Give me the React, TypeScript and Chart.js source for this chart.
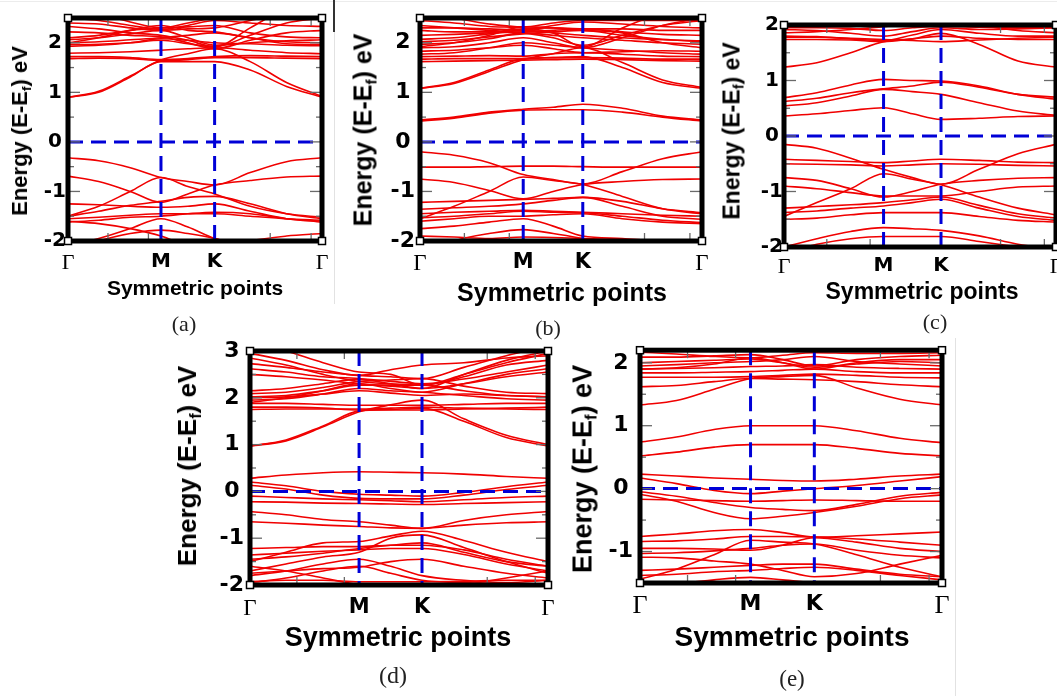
import React, { useEffect, useRef } from "react";
import { Chart, registerables } from "chart.js";

Chart.register(...registerables);

// ---------- shared data ----------
// k-path sample positions (Γ=0, M=1, K=1.577, Γ=2.732)
const K_POINTS = [0, 0.33, 0.67, 1, 1.29, 1.577, 1.96, 2.35, 2.732];
const X_TICKS = [0, 1, 1.577, 2.732];
const X_LABELS = ["Γ", "M", "K", "Γ"];
const X_MINOR = [0.43, 0.865, 2.175, 2.615];
const X_TITLE = "Symmetric points";

// ---------- panel (a) ----------
const Y_TICKS_A = [-2, -1, 0, 1, 2];
const Y_RANGE_A = [-2, 2.5];
const BANDS_A_COND = [
  [0.9, 1.0, 1.31, 1.62, 1.62, 1.62, 1.45, 1.12, 0.9],
  [0.9, 1.02, 1.33, 1.65, 1.78, 1.88, 1.62, 1.2, 0.92],
  [1.68, 1.69, 1.68, 1.64, 1.66, 1.7, 1.7, 1.69, 1.68],
  [1.72, 1.72, 1.7, 1.66, 1.68, 1.72, 1.74, 1.73, 1.72],
  [1.79, 1.8, 1.82, 1.85, 1.88, 1.9, 1.85, 1.8, 1.78],
  [1.93, 1.95, 2.0, 2.08, 2.05, 2.0, 1.98, 1.95, 1.94],
  [1.96, 1.97, 2.0, 2.05, 1.98, 1.92, 2.15, 2.4, 2.5],
  [2.0, 2.02, 2.06, 2.1, 2.15, 2.2, 2.1, 2.02, 2.0],
  [2.06, 2.1, 2.18, 2.25, 2.1, 1.95, 2.0, 2.04, 2.06],
  [2.1, 2.15, 2.25, 2.3, 2.32, 2.35, 2.2, 2.12, 2.1],
  [2.22, 2.2, 2.15, 2.12, 2.0, 1.88, 2.05, 2.2, 2.25],
  [2.33, 2.28, 2.2, 2.15, 2.05, 1.92, 2.3, 2.7, 2.9],
  [2.4, 2.38, 2.3, 2.25, 2.28, 2.3, 2.45, 2.6, 2.7],
  [2.5, 2.45, 2.35, 2.27, 2.35, 2.45, 2.4, 2.35, 2.33],
  [2.7, 2.6, 2.42, 2.3, 2.4, 2.5, 2.55, 2.5, 2.47],
  [2.0, 2.1, 2.25, 2.35, 2.25, 2.22, 2.1, 1.98, 1.96],
];
const BANDS_A_VAL = [
  [-0.32, -0.38, -0.52, -0.72, -0.8, -0.87, -0.62, -0.4, -0.32],
  [-0.69, -0.8, -1.0, -1.22, -1.05, -0.87, -0.78, -0.71, -0.69],
  [-1.5, -1.3, -1.0, -0.72, -0.9, -1.05, -1.3, -1.45, -1.52],
  [-1.5, -1.4, -1.28, -1.2, -1.12, -1.1, -1.25, -1.45, -1.55],
  [-1.55, -1.52, -1.48, -1.45, -1.45, -1.45, -1.5, -1.55, -1.58],
  [-1.62, -1.58, -1.52, -1.5, -1.45, -1.42, -1.45, -1.55, -1.62],
  [-1.25, -1.27, -1.3, -1.32, -1.3, -1.25, -1.4, -1.55, -1.6],
  [-2.2, -2.0, -1.85, -1.78, -1.85, -1.95, -2.15, -2.3, -2.4],
  [-1.6, -1.65, -1.75, -1.9, -2.1, -2.2, -2.0, -1.9, -1.85],
  [-2.1, -1.95, -1.75, -1.55, -1.72, -1.95, -2.1, -2.2, -2.2],
];

// ---------- panel (b) ----------
const Y_TICKS_B = [-2, -1, 0, 1, 2];
const Y_RANGE_B = [-2, 2.5];
const BANDS_B_COND = [
  [0.44, 0.5, 0.6, 0.66, 0.7, 0.76, 0.68, 0.52, 0.44],
  [0.42, 0.48, 0.58, 0.64, 0.65, 0.65, 0.6, 0.5, 0.42],
  [1.08, 1.2, 1.45, 1.68, 1.7, 1.72, 1.5, 1.2, 1.08],
  [1.08, 1.18, 1.42, 1.66, 1.78, 1.9, 1.6, 1.25, 1.1],
  [1.62, 1.63, 1.64, 1.65, 1.66, 1.67, 1.66, 1.64, 1.63],
  [1.67, 1.68, 1.68, 1.68, 1.7, 1.7, 1.69, 1.67, 1.67],
  [1.72, 1.73, 1.74, 1.73, 1.78, 1.8, 1.77, 1.73, 1.72],
  [1.77, 1.8, 1.9, 2.0, 1.95, 1.9, 1.85, 1.8, 1.77],
  [1.83, 1.85, 1.9, 1.95, 1.88, 1.8, 1.82, 1.84, 1.83],
  [1.9, 1.92, 2.0, 2.1, 2.0, 1.9, 2.1, 2.35, 2.5],
  [1.97, 2.0, 2.08, 2.2, 2.15, 2.1, 2.05, 2.0, 1.97],
  [2.02, 2.05, 2.12, 2.18, 2.22, 2.25, 2.15, 2.07, 2.02],
  [2.07, 2.1, 2.18, 2.25, 2.2, 2.15, 2.1, 2.06, 2.04],
  [2.15, 2.17, 2.2, 2.22, 2.25, 2.28, 2.22, 2.17, 2.15],
  [2.25, 2.22, 2.22, 2.28, 2.3, 2.28, 2.28, 2.25, 2.25],
  [2.35, 2.3, 2.25, 2.2, 2.1, 1.95, 2.15, 2.35, 2.45],
  [2.3, 2.3, 2.28, 2.26, 2.35, 2.42, 2.38, 2.33, 2.3],
  [2.45, 2.4, 2.33, 2.3, 2.2, 1.92, 2.3, 2.6, 2.8],
  [2.6, 2.5, 2.38, 2.32, 2.4, 2.45, 2.45, 2.45, 2.45],
  [1.92, 2.0, 2.15, 2.32, 2.3, 2.25, 2.2, 2.0, 1.9],
];
const BANDS_B_VAL = [
  [-0.2, -0.27, -0.42, -0.66, -0.76, -0.85, -0.6, -0.34, -0.2],
  [-0.51, -0.51, -0.5, -0.49, -0.49, -0.5, -0.51, -0.51, -0.51],
  [-0.75, -0.82, -0.98, -1.15, -1.0, -0.86, -0.8, -0.76, -0.75],
  [-1.55, -1.3, -1.0, -0.71, -0.78, -0.86, -1.1, -1.35, -1.45],
  [-1.22, -1.2, -1.18, -1.16, -1.14, -1.12, -1.2, -1.35, -1.43],
  [-1.36, -1.33, -1.3, -1.25, -1.18, -1.12, -1.3, -1.5, -1.56],
  [-1.45, -1.42, -1.4, -1.38, -1.4, -1.42, -1.45, -1.48, -1.5],
  [-1.53, -1.5, -1.45, -1.4, -1.42, -1.43, -1.5, -1.58, -1.63],
  [-1.6, -1.55, -1.5, -1.5, -1.47, -1.45, -1.55, -1.62, -1.65],
  [-2.3, -2.0, -1.85, -1.77, -1.85, -1.95, -2.1, -2.3, -2.4],
  [-1.9, -1.92, -1.95, -1.92, -1.93, -1.95, -1.97, -1.98, -2.0],
  [-1.75, -1.7, -1.62, -1.55, -1.7, -1.9, -1.95, -2.0, -2.0],
];

// ---------- panel (c) ----------
const Y_TICKS_C = [-2, -1, 0, 1, 2];
const Y_RANGE_C = [-2, 2];
const BANDS_C_COND = [
  [0.36, 0.4, 0.46, 0.51, 0.4, 0.3, 0.32, 0.35, 0.36],
  [0.54, 0.6, 0.72, 0.84, 0.8, 0.75, 0.6, 0.45, 0.37],
  [0.69, 0.78, 0.92, 1.02, 1.0, 0.99, 0.9, 0.75, 0.66],
  [0.62, 0.68, 0.78, 0.85, 0.9, 0.97, 0.88, 0.75, 0.7],
  [1.24, 1.32, 1.5, 1.7, 1.75, 1.85, 1.65, 1.35, 1.24],
  [1.74, 1.74, 1.73, 1.7, 1.75, 1.8, 1.76, 1.74, 1.74],
  [1.78, 1.78, 1.76, 1.74, 1.72, 1.7, 1.73, 1.76, 1.78],
  [1.8, 1.79, 1.75, 1.72, 1.82, 1.92, 1.85, 1.8, 1.8],
  [1.92, 1.9, 1.85, 1.8, 1.88, 1.95, 1.92, 1.93, 1.95],
  [1.95, 1.95, 1.94, 1.9, 1.95, 1.98, 1.96, 1.95, 1.95],
  [1.86, 1.88, 1.92, 1.97, 2.05, 2.1, 2.0, 1.9, 1.86],
];
const BANDS_C_VAL = [
  [-0.15, -0.22, -0.4, -0.6, -0.75, -0.87, -0.6, -0.32, -0.15],
  [-0.42, -0.44, -0.46, -0.48, -0.45, -0.42, -0.44, -0.47, -0.48],
  [-0.5, -0.51, -0.52, -0.54, -0.52, -0.5, -0.51, -0.53, -0.54],
  [-0.75, -0.8, -0.95, -1.1, -1.0, -0.87, -0.8, -0.76, -0.75],
  [-1.45, -1.2, -0.95, -0.68, -0.78, -0.88, -1.1, -1.3, -1.42],
  [-1.3, -1.27, -1.24, -1.2, -1.15, -1.1, -1.25, -1.4, -1.48],
  [-1.38, -1.35, -1.3, -1.26, -1.2, -1.14, -1.3, -1.45, -1.52],
  [-1.5, -1.48, -1.42, -1.38, -1.38, -1.38, -1.45, -1.52, -1.55],
  [-2.0, -1.85, -1.72, -1.65, -1.67, -1.7, -1.8, -1.95, -2.05],
  [-2.1, -1.95, -1.85, -1.81, -1.81, -1.81, -1.9, -2.0, -2.1],
  [-0.9, -0.95, -1.02, -1.08, -1.08, -1.08, -1.0, -0.92, -0.9],
];

// ---------- panel (d) ----------
const Y_TICKS_D = [-2, -1, 0, 1, 2, 3];
const Y_RANGE_D = [-2, 3];
const BANDS_D_COND = [
  [0.28, 0.35, 0.4, 0.42, 0.41, 0.4, 0.37, 0.32, 0.28],
  [0.2, 0.12, 0.0, -0.06, -0.08, -0.1, -0.02, 0.1, 0.2],
  [0.13, 0.05, -0.08, -0.15, -0.16, -0.16, -0.08, 0.04, 0.13],
  [0.97, 1.1, 1.4, 1.72, 1.75, 1.78, 1.5, 1.15, 0.97],
  [0.97, 1.08, 1.38, 1.7, 1.85, 1.95, 1.55, 1.2, 1.0],
  [1.75, 1.76, 1.76, 1.76, 1.78, 1.8, 1.78, 1.76, 1.75],
  [1.8, 1.8, 1.78, 1.74, 1.74, 1.74, 1.76, 1.78, 1.8],
  [1.88, 1.88, 1.86, 1.84, 1.84, 1.84, 1.86, 1.88, 1.88],
  [1.95, 1.98, 2.08, 2.2, 2.15, 2.12, 2.05, 1.98, 1.95],
  [2.0, 2.02, 2.08, 2.15, 2.1, 2.05, 2.08, 2.05, 2.02],
  [2.02, 2.05, 2.15, 2.27, 2.27, 2.27, 2.15, 2.05, 2.02],
  [2.09, 2.12, 2.22, 2.35, 2.38, 2.41, 2.25, 2.12, 2.09],
  [2.15, 2.2, 2.3, 2.4, 2.35, 2.3, 2.4, 2.55, 2.7],
  [2.5, 2.45, 2.38, 2.3, 2.25, 2.2, 2.3, 2.45, 2.55],
  [2.62, 2.55, 2.45, 2.41, 2.3, 2.2, 2.5, 2.8, 3.0],
  [2.73, 2.65, 2.55, 2.48, 2.45, 2.41, 2.65, 2.9, 3.1],
  [2.85, 2.7, 2.5, 2.35, 2.3, 2.27, 2.5, 2.75, 2.95],
  [2.95, 2.8, 2.6, 2.48, 2.6, 2.7, 2.75, 2.85, 2.9],
  [3.2, 3.0, 2.75, 2.55, 2.5, 2.27, 2.45, 2.7, 2.8],
  [1.9, 2.0, 2.15, 2.3, 2.2, 2.12, 2.3, 2.5, 2.62],
];
const BANDS_D_VAL = [
  [-0.1, -0.13, -0.16, -0.18, -0.2, -0.22, -0.18, -0.13, -0.1],
  [-0.22, -0.23, -0.25, -0.26, -0.27, -0.28, -0.26, -0.24, -0.22],
  [-0.43, -0.5, -0.6, -0.65, -0.72, -0.79, -0.62, -0.5, -0.43],
  [-0.65, -0.68, -0.72, -0.75, -0.78, -0.79, -0.72, -0.67, -0.65],
  [-1.5, -1.3, -1.1, -1.07, -0.95, -0.85, -1.05, -1.3, -1.5],
  [-1.22, -1.2, -1.18, -1.18, -1.15, -1.15, -1.25, -1.45, -1.6],
  [-1.36, -1.32, -1.28, -1.25, -1.22, -1.22, -1.35, -1.55, -1.7],
  [-1.45, -1.4, -1.32, -1.22, -1.15, -1.1, -1.3, -1.5, -1.6],
  [-1.7, -1.55, -1.4, -1.3, -1.0, -0.93, -1.2, -1.5, -1.75],
  [-1.75, -1.7, -1.65, -1.62, -1.5, -1.45, -1.6, -1.75, -1.85],
  [-1.8, -1.7, -1.55, -1.45, -1.6, -1.8, -1.9, -1.95, -1.9],
  [-1.95, -1.85, -1.7, -1.6, -1.75, -1.9, -1.95, -1.97, -1.98],
  [-1.93, -1.9, -1.9, -1.93, -1.93, -1.93, -1.92, -1.9, -1.9],
  [-1.6, -1.7, -1.85, -2.0, -2.1, -2.15, -2.0, -1.85, -1.7],
];

// ---------- panel (e) ----------
const Y_TICKS_E = [-1, 0, 1, 2];
const Y_RANGE_E = [-1.5, 2.2];
const BANDS_E_COND = [
  [0.23, 0.2, 0.17, 0.15, 0.13, 0.12, 0.15, 0.2, 0.23],
  [0.17, 0.08, -0.03, -0.08, -0.04, 0.0, 0.05, 0.12, 0.19],
  [0.52, 0.58, 0.66, 0.7, 0.7, 0.7, 0.64, 0.56, 0.52],
  [0.74, 0.82, 0.94, 1.0, 1.0, 1.0, 0.92, 0.8, 0.73],
  [1.33, 1.4, 1.58, 1.75, 1.78, 1.8, 1.6, 1.42, 1.33],
  [1.62, 1.64, 1.7, 1.75, 1.74, 1.73, 1.7, 1.65, 1.62],
  [1.77, 1.77, 1.77, 1.78, 1.8, 1.82, 1.8, 1.77, 1.76],
  [1.84, 1.84, 1.85, 1.86, 1.88, 1.9, 1.86, 1.84, 1.84],
  [1.9, 1.91, 1.92, 1.94, 1.95, 1.97, 1.93, 1.91, 1.9],
  [1.95, 1.97, 2.0, 2.02, 2.05, 2.1, 2.02, 1.98, 1.95],
  [2.0, 2.02, 2.04, 2.06, 2.0, 1.93, 1.98, 2.02, 2.0],
  [2.09, 2.09, 2.11, 2.13, 2.05, 1.95, 2.05, 2.1, 2.12],
  [2.17, 2.14, 2.1, 2.08, 2.12, 2.16, 2.15, 2.15, 2.16],
  [1.9, 1.92, 1.98, 2.08, 2.0, 1.9, 2.0, 2.05, 2.05],
];
const BANDS_E_VAL = [
  [-0.05, -0.12, -0.22, -0.3, -0.33, -0.35, -0.25, -0.12, -0.06],
  [-0.09, -0.2, -0.38, -0.48, -0.44, -0.38, -0.28, -0.16, -0.1],
  [-0.17, -0.18, -0.19, -0.2, -0.19, -0.18, -0.19, -0.2, -0.2],
  [-0.76, -0.72, -0.67, -0.65, -0.7, -0.77, -0.75, -0.72, -0.69],
  [-0.84, -0.83, -0.8, -0.76, -0.76, -0.77, -0.8, -0.85, -0.9],
  [-0.95, -0.95, -0.96, -0.98, -0.9, -0.78, -0.85, -0.95, -1.0],
  [-1.03, -1.02, -0.99, -0.95, -0.9, -0.88, -0.98, -1.06, -1.1],
  [-1.09, -1.1, -1.15, -1.2, -1.3, -1.4, -1.35, -1.2, -1.06],
  [-1.44, -1.28, -1.05, -0.82, -0.85, -0.88, -1.05, -1.25, -1.4],
  [-1.3, -1.28, -1.25, -1.22, -1.2, -1.2, -1.28, -1.36, -1.4],
  [-1.38, -1.36, -1.32, -1.3, -1.27, -1.25, -1.3, -1.38, -1.45],
  [-1.6, -1.52, -1.45, -1.41, -1.45, -1.5, -1.55, -1.6, -1.6],
];

// ---------- styles / layout ----------
const RED = "rgb(240,0,0)";
const BLUE = "rgb(0,0,215)";
const SANS = '"Liberation Sans", Arial, Helvetica, sans-serif';
const TICK_SANS = '"DejaVu Sans", "Liberation Sans", Arial, sans-serif';
const SERIF = '"Liberation Serif", "Times New Roman", serif';

const W_Y = 60;
const PAD_T = 20;
const PAD_R = 20;
const H_X = 40;

const PANELS = [
  {
    key: "a", caption: "(a)", yRange: Y_RANGE_A, yTicks: Y_TICKS_A, bands: [...BANDS_A_COND, ...BANDS_A_VAL],
    box: { L: 68, T: 18, R: 322, B: 241 }, tickSize: 20, tickPad: 2, xSize: 20, gSize: 22, xPad: 9,
    yTitle: { x: 20, y: 131, s: 22 }, xTitle: { x: 195, y: 287, s: 21 }, cap: { x: 184, y: 324, s: 22 },
  },
  {
    key: "b", caption: "(b)", yRange: Y_RANGE_B, yTicks: Y_TICKS_B, bands: [...BANDS_B_COND, ...BANDS_B_VAL],
    box: { L: 420, T: 18, R: 702, B: 241 }, tickSize: 22, tickPad: 5, xSize: 21, gSize: 23, xPad: 9,
    yTitle: { x: 363, y: 130, s: 25 }, xTitle: { x: 562, y: 292, s: 25 }, cap: { x: 548, y: 328, s: 22 },
  },
  {
    key: "c", caption: "(c)", yRange: Y_RANGE_C, yTicks: Y_TICKS_C, bands: [...BANDS_C_COND, ...BANDS_C_VAL],
    box: { L: 784, T: 25, R: 1056, B: 247 }, tickSize: 20, tickPad: 1, xSize: 20, gSize: 22, xPad: 7,
    yTitle: { x: 732, y: 131, s: 23 }, xTitle: { x: 922, y: 291, s: 23 }, cap: { x: 935, y: 322, s: 22 },
  },
  {
    key: "d", caption: "(d)", yRange: Y_RANGE_D, yTicks: Y_TICKS_D, bands: [...BANDS_D_COND, ...BANDS_D_VAL],
    box: { L: 250, T: 351, R: 548, B: 585 }, tickSize: 22, tickPad: 6, xSize: 21, gSize: 23, xPad: 10,
    yTitle: { x: 187, y: 466, s: 26 }, xTitle: { x: 398, y: 637, s: 27 }, cap: { x: 393, y: 675, s: 24 },
  },
  {
    key: "e", caption: "(e)", yRange: Y_RANGE_E, yTicks: Y_TICKS_E, bands: [...BANDS_E_COND, ...BANDS_E_VAL],
    box: { L: 640, T: 350, R: 942, B: 583 }, tickSize: 22, tickPad: 7, xSize: 22, gSize: 26, xPad: 8,
    yTitle: { x: 583, y: 469, s: 27 }, xTitle: { x: 792, y: 637, s: 28 }, cap: { x: 792, y: 678, s: 23 },
  },
];

const framePlugin = {
  id: "bandFrame",
  afterDatasetsDraw(chart: any) {
    const { ctx, chartArea, scales } = chart;
    const { left, top, right, bottom } = chartArea;
    const y = scales.y;
    const x = scales.x;
    ctx.save();
    ctx.strokeStyle = "#6a6a6a";
    ctx.lineWidth = 1.3;
    const seg = (x1: number, y1: number, x2: number, y2: number) => {
      ctx.beginPath();
      ctx.moveTo(x1, y1);
      ctx.lineTo(x2, y2);
      ctx.stroke();
    };
    const start = Math.ceil(y.min * 2) / 2;
    for (let v = start; v <= y.max + 1e-9; v += 0.5) {
      if (Math.abs(v - y.min) < 1e-6 || Math.abs(v - y.max) < 1e-6) continue;
      const py = y.getPixelForValue(v);
      const len = Math.abs(v - Math.round(v)) < 1e-6 ? 12 : 6;
      seg(left, py, left + len, py);
      seg(right - len, py, right, py);
    }
    X_MINOR.forEach((k) => {
      const px = x.getPixelForValue(k);
      seg(px, top, px, top + 8);
      seg(px, bottom - 8, px, bottom);
    });
    ctx.strokeStyle = "#000";
    ctx.lineWidth = 5;
    ctx.strokeRect(left, top, right - left, bottom - top);
    ctx.fillStyle = "#fff";
    ctx.lineWidth = 1.5;
    [[left, top], [right, top], [left, bottom], [right, bottom]].forEach(([cx, cy]) => {
      ctx.fillRect(cx - 3.5, cy - 3.5, 7, 7);
      ctx.strokeRect(cx - 3.5, cy - 3.5, 7, 7);
    });
    ctx.restore();
  },
};

function BandPanel({ p }: { p: any }) {
  const ref = useRef<HTMLCanvasElement>(null);
  const { L, T, R, B } = p.box;
  const width = R - L + W_Y + PAD_R;
  const height = B - T + PAD_T + H_X;

  useEffect(() => {
    if (!ref.current) return;
    const [yMin, yMax] = p.yRange;
    const datasets: any[] = p.bands.map((band: number[]) => ({
      data: K_POINTS.map((k, i) => ({ x: k, y: band[i] })),
      borderColor: RED,
      borderWidth: 1.6,
      pointRadius: 0,
      cubicInterpolationMode: "monotone",
      order: 2,
    }));
    [X_TICKS[1], X_TICKS[2]].forEach((xv) => {
      datasets.push({
        data: [{ x: xv, y: yMax }, { x: xv, y: yMin }],
        borderColor: BLUE,
        borderWidth: 3,
        borderDash: [15, 8],
        pointRadius: 0,
        order: 1,
      });
    });
    datasets.push({
      data: [{ x: X_TICKS[0], y: 0 }, { x: X_TICKS[3], y: 0 }],
      borderColor: BLUE,
      borderWidth: 3,
      borderDash: [15, 8],
      pointRadius: 0,
      order: 1,
    });

    const chart = new Chart(ref.current, {
      type: "line",
      data: { datasets },
      options: {
        animation: false,
        responsive: false,
        events: [],
        layout: { padding: { top: PAD_T, right: PAD_R, left: 0, bottom: 0 } },
        plugins: { legend: { display: false }, tooltip: { enabled: false } },
        scales: {
          x: {
            type: "linear",
            min: X_TICKS[0],
            max: X_TICKS[3],
            grid: { display: false, drawTicks: false },
            border: { display: false },
            afterBuildTicks: (s: any) => {
              s.ticks = X_TICKS.map((v) => ({ value: v }));
            },
            afterFit: (s: any) => {
              s.height = H_X;
            },
            ticks: {
              autoSkip: false,
              maxRotation: 0,
              minRotation: 0,
              padding: p.xPad,
              color: "#000",
              callback: (_v: any, i: number) => X_LABELS[i],
              font: (ctx: any) =>
                ctx.index === 0 || ctx.index === X_TICKS.length - 1
                  ? { family: SERIF, size: p.gSize, weight: "normal" }
                  : { family: TICK_SANS, size: p.xSize, weight: "bold" },
            },
          },
          y: {
            type: "linear",
            min: yMin,
            max: yMax,
            grid: { display: false, drawTicks: false },
            border: { display: false },
            afterBuildTicks: (s: any) => {
              s.ticks = p.yTicks.map((v: number) => ({ value: v }));
            },
            afterFit: (s: any) => {
              s.width = W_Y;
            },
            ticks: {
              padding: p.tickPad,
              crossAlign: "center",
              color: "#000",
              font: { family: TICK_SANS, size: p.tickSize, weight: "bold" },
              callback: (v: any) => String(v),
            },
          },
        },
      } as any,
      plugins: [framePlugin],
    });
    return () => chart.destroy();
  }, []);

  return (
    <canvas
      ref={ref}
      width={width}
      height={height}
      style={{ position: "absolute", left: L - W_Y, top: T - PAD_T, width, height, display: "block" }}
    />
  );
}

function YTitle({ t }: { t: any }) {
  return (
    <div
      style={{
        position: "absolute",
        left: t.x,
        top: t.y,
        transform: "translate(-50%, -50%) rotate(-90deg)",
        whiteSpace: "nowrap",
        fontFamily: SANS,
        fontWeight: "bold",
        fontSize: t.s,
        lineHeight: 1,
        color: "#000",
      }}
    >
      Energy (E-E
      <span style={{ fontSize: "0.62em", position: "relative", top: "0.3em" }}>f</span>
      ) eV
    </div>
  );
}

function Centered({ x, y, s, family, weight, color, children }: any) {
  return (
    <div
      style={{
        position: "absolute",
        left: x,
        top: y,
        transform: "translate(-50%, -50%)",
        whiteSpace: "nowrap",
        fontFamily: family,
        fontWeight: weight,
        fontSize: s,
        lineHeight: 1,
        color,
      }}
    >
      {children}
    </div>
  );
}

export default function App() {
  return (
    <div
      style={{
        position: "absolute",
        left: 0,
        top: 0,
        width: 1057,
        height: 696,
        overflow: "hidden",
        background: "#fff",
      }}
    >
      <div style={{ position: "absolute", left: 0, top: 1, width: 1057, height: 1, background: "#ececec" }} />
      <div style={{ position: "absolute", left: 333, top: 0, width: 2, height: 32, background: "#333" }} />
      <div style={{ position: "absolute", left: 334, top: 32, width: 1, height: 272, background: "#e2e2e2" }} />
      <div style={{ position: "absolute", left: 955, top: 338, width: 1, height: 358, background: "#e2e2e2" }} />
      {PANELS.map((p) => (
        <React.Fragment key={p.key}>
          <BandPanel p={p} />
          <YTitle t={p.yTitle} />
          <Centered x={p.xTitle.x} y={p.xTitle.y} s={p.xTitle.s} family={SANS} weight="bold" color="#000">
            {X_TITLE}
          </Centered>
          <Centered x={p.cap.x} y={p.cap.y} s={p.cap.s} family={SERIF} weight="normal" color="#222">
            {p.caption}
          </Centered>
        </React.Fragment>
      ))}
    </div>
  );
}
